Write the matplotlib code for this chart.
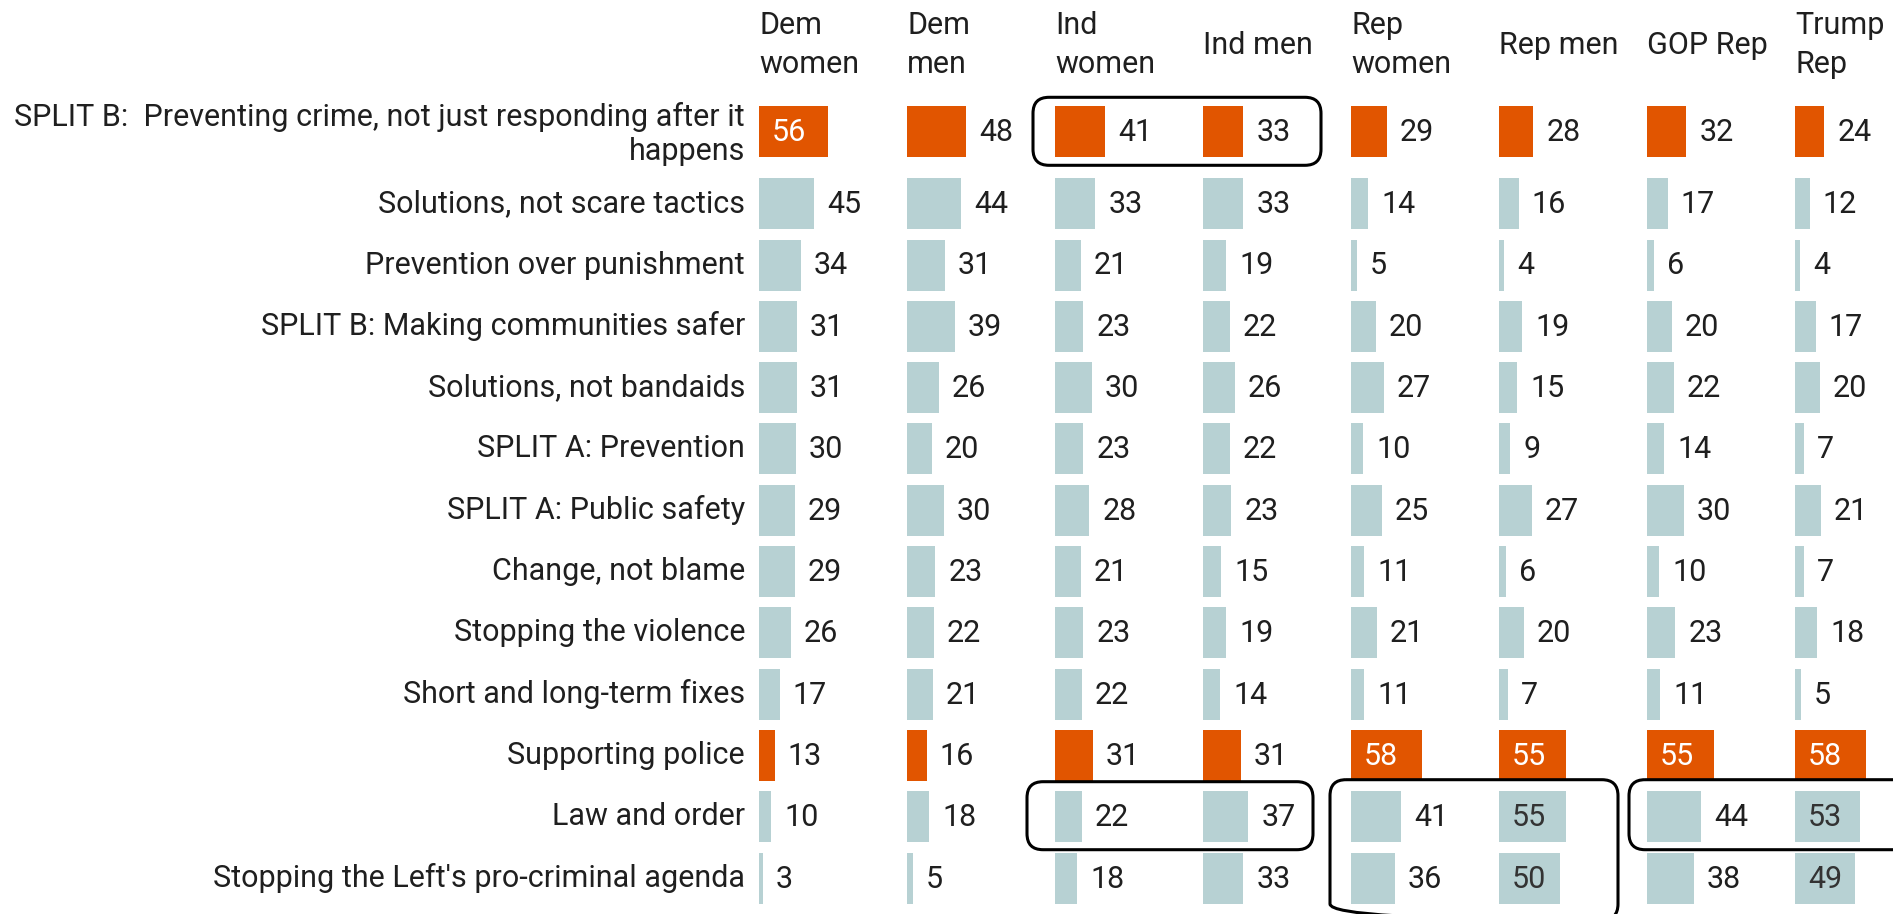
import numpy as np
import matplotlib
matplotlib.use('Agg')
import matplotlib.pyplot as plt
from matplotlib.patches import FancyBboxPatch

plt.rcParams['font.family'] = ['Roboto', 'DejaVu Sans']

rows = [
    "SPLIT B:  Preventing crime, not just responding after it\nhappens",
    "Solutions, not scare tactics",
    "Prevention over punishment",
    "SPLIT B: Making communities safer",
    "Solutions, not bandaids",
    "SPLIT A: Prevention",
    "SPLIT A: Public safety",
    "Change, not blame",
    "Stopping the violence",
    "Short and long-term fixes",
    "Supporting police",
    "Law and order",
    "Stopping the Left's pro-criminal agenda",
]
headers = ["Dem\nwomen", "Dem\nmen", "Ind\nwomen", "Ind men",
           "Rep\nwomen", "Rep men", "GOP Rep", "Trump\nRep"]

dem_women = [56, 45, 34, 31, 31, 30, 29, 29, 26, 17, 13, 10, 3]
dem_men = [48, 44, 31, 39, 26, 20, 30, 23, 22, 21, 16, 18, 5]
ind_women = [41, 33, 21, 23, 30, 23, 28, 21, 23, 22, 31, 22, 18]
ind_men = [33, 33, 19, 22, 26, 22, 23, 15, 19, 14, 31, 37, 33]
rep_women = [29, 14, 5, 20, 27, 10, 25, 11, 21, 11, 58, 41, 36]
rep_men = [28, 16, 4, 19, 15, 9, 27, 6, 20, 7, 55, 55, 50]
gop_rep = [32, 17, 6, 20, 22, 14, 30, 10, 23, 11, 55, 44, 38]
trump_rep = [24, 12, 4, 17, 20, 7, 21, 7, 18, 5, 58, 53, 49]
columns = [dem_women, dem_men, ind_women, ind_men, rep_women, rep_men, gop_rep, trump_rep]

highlight_rows = [0, 10]

ORANGE = '#e15500'
BLUE = '#b7d1d3'
TEXT = '#1f1f1f'

# layout in pixels
W, H = 1893, 914
col_x = 759 + 148 * np.arange(len(columns))
row_y = np.array([131.3] + [203.7 + 61.3 * i for i in range(len(rows) - 1)])
px_per_unit = 1.225
bar_h = 51
FS = 22

fig = plt.figure(figsize=(W / 100, H / 100), dpi=100)
ax = fig.add_axes([0, 0, 1, 1])
ax.set_xlim(0, W)
ax.set_ylim(H, 0)
ax.axis('off')

for i, lab in enumerate(rows):
    dy = 3 if '\n' in lab else 0
    ax.text(745, row_y[i] + dy, lab, ha='right', va='center', fontsize=FS,
            color=TEXT, linespacing=1.22)

for j, h in enumerate(headers):
    ax.text(col_x[j], 45, h, ha='left', va='center', fontsize=FS,
            color=TEXT, linespacing=1.42)

for j, vals in enumerate(columns):
    vals = np.array(vals)
    colors = [ORANGE if i in highlight_rows else BLUE for i in range(len(vals))]
    ax.barh(row_y, vals * px_per_unit, left=col_x[j], height=bar_h, color=colors)
    for i, v in enumerate(vals):
        if v >= 49:
            c = 'white' if i in highlight_rows else '#333333'
            ax.text(col_x[j] + 13, row_y[i] + 1, str(v), ha='left', va='center',
                    fontsize=FS, color=c)
        else:
            ax.text(col_x[j] + v * px_per_unit + 13, row_y[i] + 1, str(v),
                    ha='left', va='center', fontsize=FS, color=TEXT)

# rounded highlight boxes: (first col, last col, first row, last row, pads)
boxes = [
    (2, 3, 0, 0, 22, 118, 34, 34),
    (2, 3, 11, 11, 28, 110, 35, 33),
    (4, 5, 11, 12, 21, 119, 37, 42),
    (6, 7, 11, 11, 18, 160, 37, 33),
]
for c0, c1, r0, r1, pl, pr, pt, pb in boxes:
    x0 = col_x[c0] - pl
    x1 = col_x[c1] + pr
    y0 = row_y[r0] - pt
    y1 = row_y[r1] + pb
    ax.add_patch(FancyBboxPatch((x0, y0), x1 - x0, y1 - y0,
                                boxstyle='round,pad=0,rounding_size=16',
                                fill=False, ec='black', lw=2.2, zorder=5))

plt.savefig('out.png', dpi=100)
